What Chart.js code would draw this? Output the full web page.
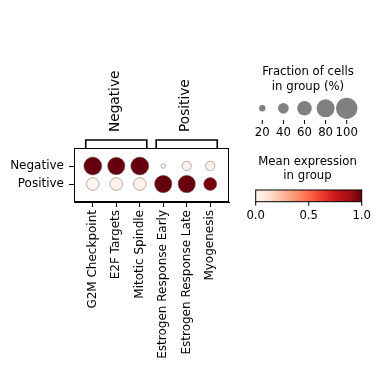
<!DOCTYPE html>
<html>
<head>
<meta charset="utf-8">
<script src="https://cdn.jsdelivr.net/npm/chart.js@4.4.1/dist/chart.umd.min.js"></script>
<style>
html,body{margin:0;padding:0;background:#fff;}
canvas{display:block;}
</style>
</head>
<body>
<canvas id="c" width="381" height="370"></canvas>
<script>
// ---- data ----
const categories = ['G2M Checkpoint','E2F Targets','Mitotic Spindle','Estrogen Response Early','Estrogen Response Late','Myogenesis'];
const groups = ['Negative','Positive'];
const fracNegative = [80, 76, 80, 13, 33, 33];
const fracPositive = [50, 50, 50, 76, 76, 52];
const exprNegative = [1, 1, 1, 0.0, 0.03, 0.02];
const exprPositive = [0.0, 0.02, 0.03, 1, 1, 0.97];
const varGroupLabels = ['Negative','Positive'];
const varGroupStart = [0, 3];
const varGroupEnd = [2, 5];
const sizeLegendValues = [20, 40, 60, 80, 100];
const colorbarTicks = [0.0, 0.5, 1.0];

// ---- styles ----
const FONT = 'DejaVu Sans';
const MAXR = 10.65;
const radiusOf = f => MAXR * Math.pow(f/100, 0.75);
const REDS = ['#fff5f0','#fee0d2','#fcbba1','#fc9272','#fb6a4a','#ef3b2c','#cb181d','#a50f15','#67000d'];
function hex(h){return [parseInt(h.slice(1,3),16),parseInt(h.slice(3,5),16),parseInt(h.slice(5,7),16)];}
function reds(v){
  v = Math.max(0, Math.min(1, v));
  const p = v*(REDS.length-1); const i = Math.min(Math.floor(p), REDS.length-2); const t = p-i;
  const a = hex(REDS[i]), b = hex(REDS[i+1]);
  return 'rgb(' + a.map((x,k)=>Math.round(x+(b[k]-x)*t)).join(',') + ')';
}

const fracs = [fracNegative, fracPositive];
const exprs = [exprNegative, exprPositive];
const points = [];
groups.forEach((g, gi) => categories.forEach((c, ci) => {
  points.push({x: ci, y: gi, r: radiusOf(fracs[gi][ci]), color: reds(exprs[gi][ci])});
}));

const decor = {
  id: 'decor',
  beforeDraw(chart){
    const ctx = chart.ctx;
    ctx.save(); ctx.fillStyle = '#fff'; ctx.fillRect(0,0,chart.width,chart.height); ctx.restore();
  },
  afterDraw(chart){
    const ctx = chart.ctx; const a = chart.chartArea; const xs = chart.scales.x;
    ctx.save();
    // frame
    ctx.strokeStyle = '#000'; ctx.lineWidth = 1;
    ctx.strokeRect(Math.round(a.left)+0.5, Math.round(a.top)+0.5, Math.round(a.right-a.left)-1, Math.round(a.bottom-a.top)-1);
    // brackets
    ctx.lineWidth = 1.6; ctx.lineCap = 'butt';
    const by = a.top - 8;
    varGroupLabels.forEach((lab, i) => {
      const l = xs.getPixelForValue(varGroupStart[i] - 0.3);
      const r = xs.getPixelForValue(varGroupEnd[i] + 0.3);
      ctx.beginPath();
      ctx.moveTo(l, a.top); ctx.lineTo(l, by); ctx.lineTo(r, by); ctx.lineTo(r, a.top);
      ctx.stroke();
      ctx.save();
      ctx.translate((l+r)/2 - 1, by - 8);
      ctx.rotate(-Math.PI/2);
      ctx.fillStyle = '#000'; ctx.font = '13.7px "' + FONT + '"';
      ctx.textAlign = 'left'; ctx.textBaseline = 'middle';
      ctx.fillText(lab, 0, 0);
      ctx.restore();
    });
    // size legend
    ctx.fillStyle = '#000'; ctx.font = '11.7px "' + FONT + '"';
    ctx.textAlign = 'center'; ctx.textBaseline = 'middle';
    ctx.fillText('Fraction of cells', 308, 71.5);
    ctx.fillText('in group (%)', 308, 87);
    const lx0 = 262.3, lstep = 21.1, ly = 108.3;
    sizeLegendValues.forEach((v, i) => {
      const cx = lx0 + i*lstep;
      ctx.beginPath(); ctx.arc(cx, ly, radiusOf(v), 0, Math.PI*2);
      ctx.fillStyle = '#808080'; ctx.fill();
      ctx.strokeStyle = '#000'; ctx.lineWidth = 1;
      ctx.beginPath(); ctx.moveTo(cx, 120); ctx.lineTo(cx, 124); ctx.stroke();
      ctx.fillStyle = '#000';
      ctx.fillText(String(v), cx, 133);
    });
    // colorbar legend
    ctx.fillText('Mean expression', 307.5, 161.5);
    ctx.fillText('in group', 307.5, 175.5);
    const cbL = 255.7, cbR = 361.7, cbT = 190, cbB = 201.7;
    const grad = ctx.createLinearGradient(cbL, 0, cbR, 0);
    REDS.forEach((c, i) => grad.addColorStop(i/(REDS.length-1), c));
    ctx.fillStyle = grad; ctx.fillRect(cbL, cbT, cbR-cbL, cbB-cbT);
    ctx.strokeStyle = '#000'; ctx.lineWidth = 1;
    ctx.strokeRect(cbL, cbT, cbR-cbL, cbB-cbT);
    ctx.fillStyle = '#000';
    colorbarTicks.forEach(t => {
      const px = cbL + t*(cbR-cbL);
      ctx.beginPath(); ctx.moveTo(px, cbB); ctx.lineTo(px, cbB+4); ctx.stroke();
      ctx.fillText(t.toFixed(1), px, 216);
    });
    ctx.restore();
  }
};

new Chart(document.getElementById('c'), {
  type: 'bubble',
  data: {datasets: [{
    data: points,
    backgroundColor: c => c.raw ? c.raw.color : '#000',
    borderColor: 'rgba(110,100,100,0.85)',
    borderWidth: 0.6,
    hoverRadius: 0
  }]},
  options: {
    responsive: false, animation: false, events: [],
    layout: {padding: {top: 148, right: 152, left: 0, bottom: 0}},
    plugins: {legend: {display: false}, tooltip: {enabled: false}},
    scales: {
      x: {
        type: 'linear', min: -0.8, max: 5.8,
        afterBuildTicks: s => { s.ticks = categories.map((c, i) => ({value: i})); },
        afterFit: s => { s.height = 168; },
        ticks: {callback: v => categories[v], maxRotation: 90, minRotation: 90, autoSkip: false,
                font: {family: FONT, size: 12}, color: '#000', padding: 3},
        grid: {drawOnChartArea: false, drawTicks: true, tickLength: 5, color: '#000', lineWidth: 1},
        border: {display: true, color: '#000'}
      },
      y: {
        type: 'linear', min: -1, max: 2, reverse: true,
        afterBuildTicks: s => { s.ticks = groups.map((g, i) => ({value: i})); },
        afterFit: s => { s.width = 74; },
        ticks: {callback: v => groups[v], autoSkip: false,
                font: {family: FONT, size: 12}, color: '#000', padding: 5},
        grid: {drawOnChartArea: false, drawTicks: true, tickLength: 5, color: '#000', lineWidth: 1},
        border: {display: true, color: '#000'}
      }
    }
  },
  plugins: [decor]
});
</script>
</body>
</html>
